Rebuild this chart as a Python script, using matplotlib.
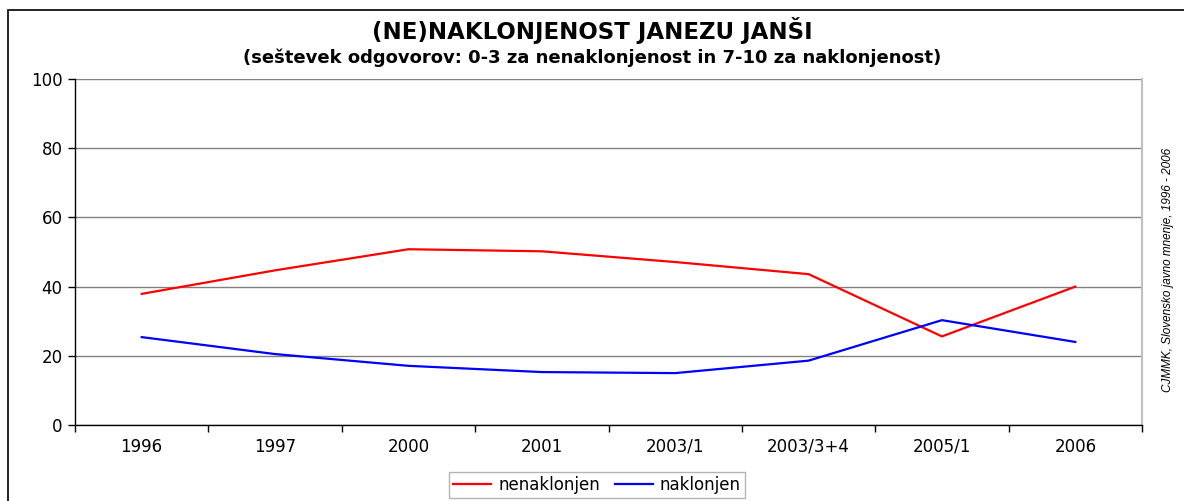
import matplotlib.pyplot as plt
from matplotlib.patches import Rectangle

plt.rcParams['font.family'] = ['DejaVu Sans']

categories = ['1996', '1997', '2000', '2001', '2003/1', '2003/3+4', '2005/1', '2006']
nenaklonjen = [37.9, 44.7, 50.8, 50.2, 47.1, 43.6, 25.6, 40.0]
naklonjen = [25.4, 20.5, 17.1, 15.3, 15.0, 18.6, 30.3, 24.0]

W, H = 1184, 501
fig = plt.figure(figsize=(W / 100, H / 100), dpi=100)
ax = fig.add_axes([75 / W, 1 - 425 / H, (1142 - 75) / W, (425 - 79) / H])

x = list(range(len(categories)))
ax.plot(x, nenaklonjen, color='#ff0000', lw=1.6, label='nenaklonjen', zorder=3)
ax.plot(x, naklonjen, color='#0000ff', lw=1.6, label='naklonjen', zorder=3)

ax.set_xlim(-0.5, len(categories) - 0.5)
ax.set_ylim(0, 100)
ax.set_yticks(range(0, 101, 20))
ax.set_xticks(x)
ax.set_xticklabels(categories)
ax.set_xticks([i - 0.5 for i in range(len(categories) + 1)], minor=True)
ax.tick_params(axis='x', which='major', length=0, pad=9, labelsize=12)
ax.tick_params(axis='x', which='minor', length=5, width=1, color='black')
ax.tick_params(axis='y', length=5, width=1, labelsize=12, pad=4)
ax.yaxis.grid(True, color='#808080', lw=1)
ax.set_axisbelow(True)

for side in ['left', 'bottom']:
    ax.spines[side].set_color('black')
    ax.spines[side].set_linewidth(1)
ax.spines['top'].set_visible(False)
ax.spines['right'].set_color('#c0c0c0')
ax.spines['right'].set_linewidth(1.5)

fig.text(0.5, 1 - 31 / H, '(NE)NAKLONJENOST JANEZU JANŠI', ha='center', va='center',
         fontsize=16.5, fontweight='bold')
fig.text(0.5, 1 - 58 / H, '(seštevek odgovorov: 0-3 za nenaklonjenost in 7-10 za naklonjenost)',
         ha='center', va='center', fontsize=13, fontweight='bold')
fig.text(1168 / W, 1 - 270 / H, 'CJMMK, Slovensko javno mnenje, 1996 - 2006', rotation=90,
         ha='center', va='center', fontsize=8.5, style='italic', family='Liberation Sans')

# outer chart frame
fig.patches.append(Rectangle((8 / W, -0.05), 1.1, 1 - 10 / H + 0.05, transform=fig.transFigure,
                             fill=False, edgecolor='black', lw=1.2))

leg = fig.legend(loc='center', bbox_to_anchor=(597 / W, 1 - 485 / H), ncol=2, frameon=True,
                 fancybox=False, edgecolor='#a0a0a0', fontsize=12, handlelength=2.3,
                 borderpad=0.25, columnspacing=0.9, handletextpad=0.4)
leg.get_frame().set_linewidth(1)

fig.savefig('out.png', dpi=100)
